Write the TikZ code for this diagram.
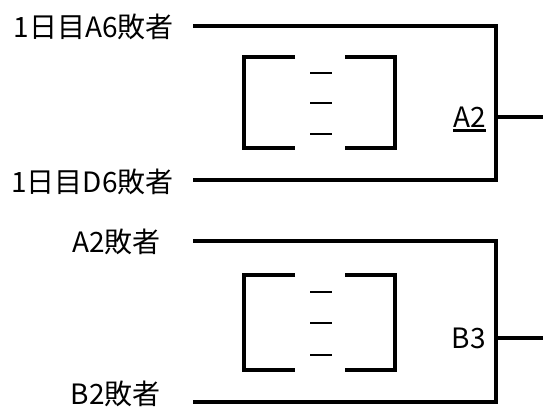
\documentclass[tikz,border=0pt]{standalone}
\usepackage{fontspec}
\setmainfont{Noto Sans CJK JP}
\begin{document}
\begin{tikzpicture}[x=1pt,y=-1pt,
  wire/.style={line width=3.2pt},
  brk/.style={line width=3.4pt},
  dsh/.style={line width=2.6pt},
  lbl/.style={font=\fontsize{28}{28}\selectfont, inner sep=0pt, anchor=east},
  res/.style={font=\fontsize{28}{28}\selectfont, inner sep=0pt, anchor=east}]
\useasboundingbox (0,0) rectangle (543,409);
% ---------- upper block ----------
\node[lbl] (l1) at (174,27) {1日目A6敗者};
\node[lbl] (l2) at (174,182) {1日目D6敗者};
\coordinate (u1s) at (193,26);
\coordinate (u1e) at (496,26);
\coordinate (u2s) at (193,180);
\coordinate (u2e) at (496,180);
\coordinate (uo) at (496,117);
\coordinate (uoe) at (543,117);
\draw[wire] (u1s) -- (u1e) -- (u2e) -- (u2s);
\draw[wire] (uo) -- (uoe);
\node[res] (a2) at (486,117) {A2};
\draw[line width=2.2pt] ([yshift=-3pt]a2.south west) -- ([yshift=-3pt]a2.south east);
\draw[brk] (295,57) -- (244,57) -- (244,148) -- (295,148);
\draw[brk] (345,57) -- (395,57) -- (395,148) -- (345,148);
\foreach \yy in {73,103,134} \draw[dsh] (310,\yy) -- (332,\yy);
% ---------- lower block ----------
\node[lbl] (l3) at (161,242) {A2敗者};
\node[lbl] (l4) at (161,394) {B2敗者};
\coordinate (d1s) at (193,241);
\coordinate (d1e) at (496,241);
\coordinate (d2s) at (193,402);
\coordinate (d2e) at (496,402);
\coordinate (do) at (496,338);
\coordinate (doe) at (543,338);
\draw[wire] (d1s) -- (d1e) -- (d2e) -- (d2s);
\draw[wire] (do) -- (doe);
\node[res] (b3) at (486,338) {B3};
\draw[brk] (295,275) -- (244,275) -- (244,370) -- (295,370);
\draw[brk] (345,275) -- (395,275) -- (395,370) -- (345,370);
\foreach \yy in {292,323,355} \draw[dsh] (310,\yy) -- (332,\yy);
\end{tikzpicture}
\end{document}
